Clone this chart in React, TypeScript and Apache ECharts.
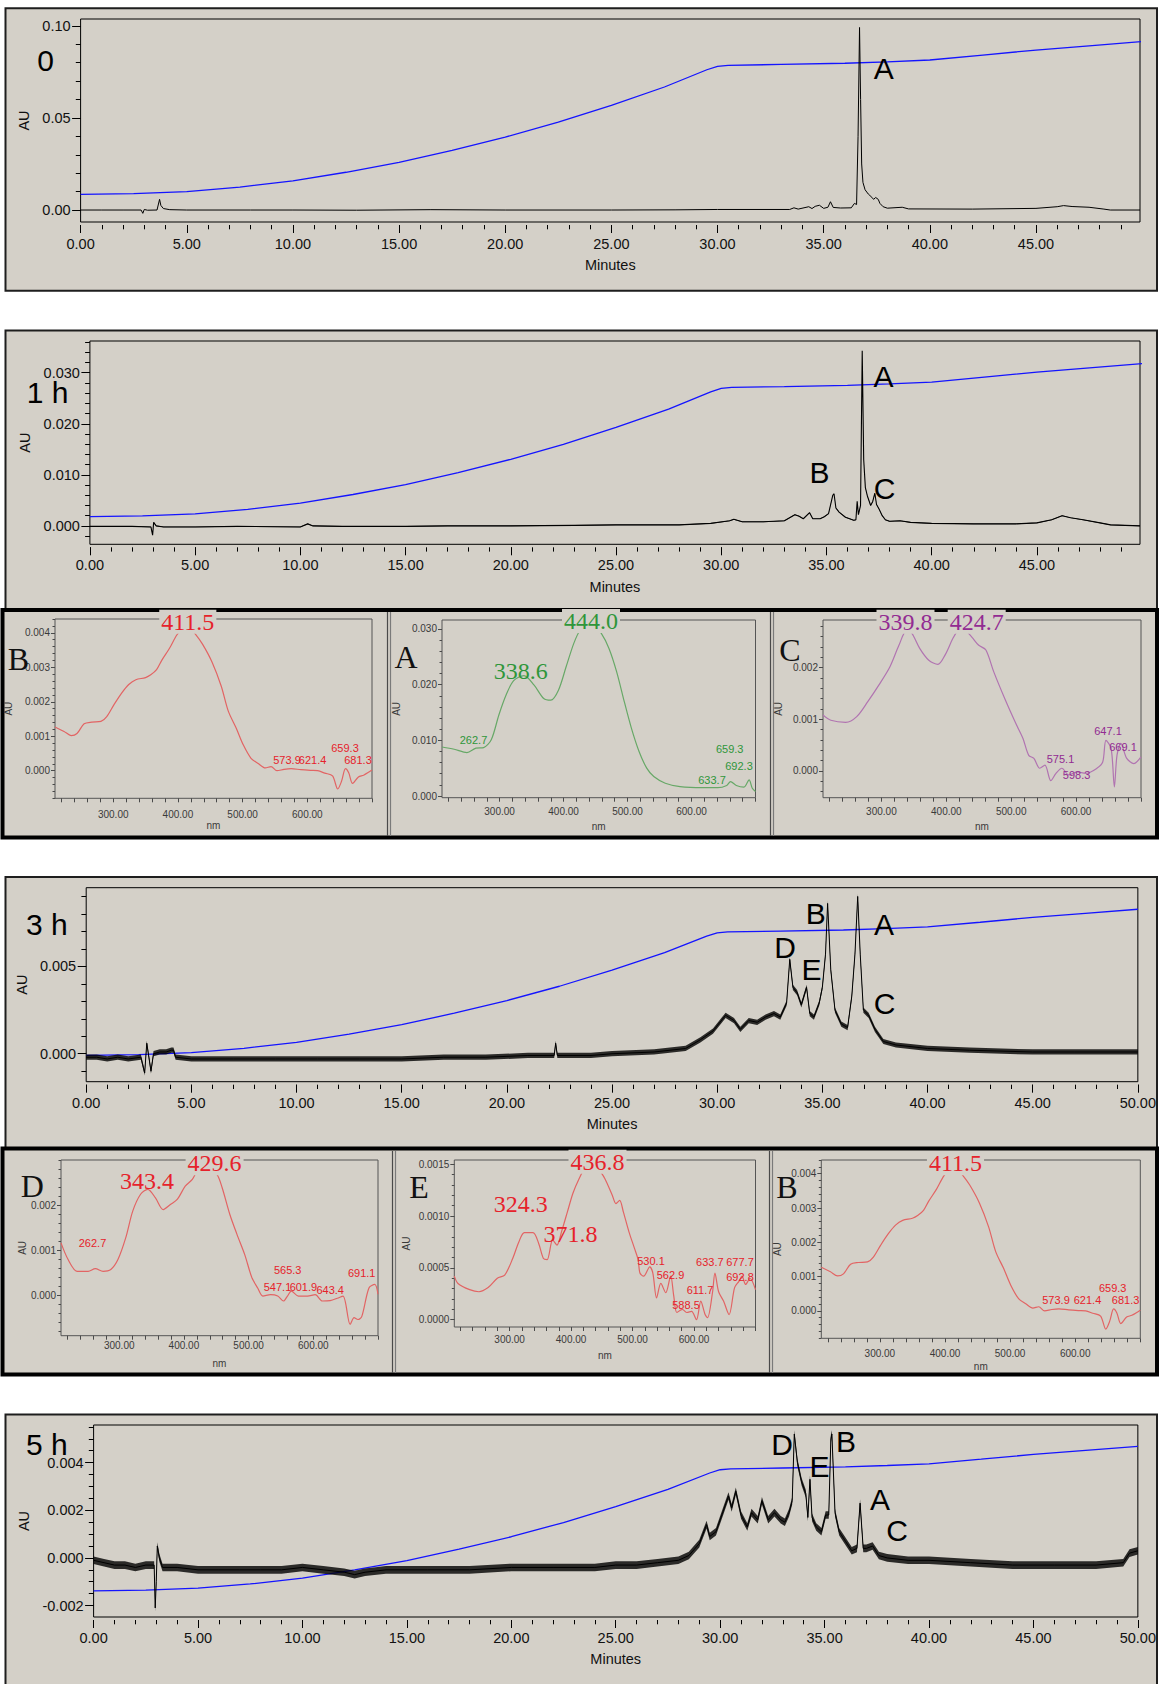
import React, { useEffect, useRef } from 'react';
import * as echarts from 'echarts';

const W = 1159;
const H = 1684;
const SANS = '"Liberation Sans", Arial, Helvetica, sans-serif';
const SERIF = '"Liberation Serif", "Times New Roman", Times, serif';
const PANEL = '#d4d0c8';

const range = (a: number, b: number, s: number) => {
  const out: number[] = [];
  const n = Math.round((b - a) / s);
  for (let i = 0; i <= n; i++) out.push(+(a + i * s).toFixed(6));
  return out;
};

// ---------------- gradient (blue) ----------------
const gradientMinutes = [0, 2.5, 5, 7.5, 10, 12.5, 15, 17.5, 20, 22.5, 25, 27.5, 29.5, 30, 30.5, 33, 36, 38, 40, 42.5, 45, 47.5, 50];
const gradientPercent = [13.6, 14.0, 15.0, 17.2, 20.3, 24.5, 29.4, 35.3, 41.8, 49.2, 57.5, 66.5, 75.0, 76.7, 77.2, 77.6, 78.2, 78.9, 79.8, 82.2, 84.7, 86.8, 88.9];

// ---------------- chromatograms ----------------
const trace0h: [number, number][] = [
  [0, 0], [1, 0], [2, 0], [2.85, 0], [2.93, -0.0018], [3.0, 0.0003], [3.15, -0.0001], [3.6, 0], [3.72, 0.0058], [3.78, 0.0025],
  [3.9, 0.0008], [4.2, 0.0002], [5, 0], [8, 0], [10, 0], [13, -0.0001], [16.5, 0.0002], [20, 0], [25, 0], [28, 0.0001], [30, 0.0003],
  [33.4, 0.0003], [33.6, 0.0012], [33.8, 0.0005], [34.3, 0.0018], [34.45, 0.0008], [34.6, 0.002], [34.8, 0.0026], [35.0, 0.0009],
  [35.2, 0.0015], [35.32, 0.0045], [35.45, 0.0014], [35.8, 0.0011], [36.3, 0.0012], [36.45, 0.0036], [36.55, 0.003], [36.62, 0.04],
  [36.69, 0.0991], [36.74, 0.06], [36.79, 0.025], [36.85, 0.015], [36.95, 0.011], [37.1, 0.0087], [37.27, 0.0069], [37.35, 0.0058],
  [37.45, 0.0068], [37.57, 0.0058], [37.65, 0.0036], [37.8, 0.0018], [38.0, 0.001], [38.7, 0.0015], [39.0, 0.0006], [42, 0.0005],
  [45, 0.0009], [46, 0.0018], [46.3, 0.0024], [46.7, 0.0019], [47.5, 0.0015], [48.2, 0.0005], [48.5, 0], [49.9, 0],
];
const trace1h: [number, number][] = [
  [0, -0.0001], [1, -0.0001], [2, -0.0001], [2.9, -0.0002], [2.98, -0.0018], [3.03, 0.0007], [3.15, 0], [3.5, -0.0002], [5, -0.0002],
  [7, -0.0001], [10, -0.0002], [10.35, 0.0004], [10.6, 0], [12, -0.0001], [15, -0.0001], [17, 0], [20, 0], [23, 0.0001], [25, 0.0002],
  [28, 0.0002], [29.5, 0.0005], [30.4, 0.001], [30.6, 0.0013], [31, 0.0008], [32, 0.0008], [33, 0.001], [33.5, 0.0022], [33.7, 0.0019],
  [33.9, 0.0014], [34.2, 0.0026], [34.35, 0.0014], [34.7, 0.0014], [34.9, 0.0018], [35.1, 0.0024], [35.3, 0.006], [35.36, 0.0063],
  [35.45, 0.0035], [35.6, 0.0027], [35.9, 0.0017], [36.3, 0.0011], [36.4, 0.0012], [36.46, 0.0048], [36.52, 0.0022], [36.62, 0.004],
  [36.7, 0.0343], [36.77, 0.013], [36.85, 0.0075], [36.95, 0.0058], [37.1, 0.004], [37.2, 0.0048], [37.3, 0.0064], [37.38, 0.0042],
  [37.5, 0.0033], [37.65, 0.002], [37.8, 0.0012], [38, 0.0009], [38.5, 0.001], [39, 0.0007], [40, 0.0005], [42, 0.0004], [44, 0.0004],
  [45, 0.0006], [45.7, 0.0012], [46.2, 0.002], [46.6, 0.0016], [47.2, 0.0012], [48, 0.0006], [48.5, 0.0002], [49.9, 0],
];
const trace3h: [number, number][] = [
  [0, -0.0002], [0.5, -0.0002], [1, -0.0003], [1.5, -0.0002], [2, -0.0003], [2.6, -0.0002], [2.78, -0.0011], [2.88, 0.0006],
  [2.98, -0.0002], [3.08, -0.001], [3.2, 0], [3.5, 0.0001], [3.8, 0.0001], [4.05, 0.0002], [4.15, 0.0002], [4.25, -0.0002],
  [5, -0.0003], [7, -0.0003], [9, -0.0003], [11, -0.0003], [13, -0.0003], [15, -0.0003], [17, -0.0002], [19, -0.0002], [21, -0.0001],
  [22.25, -0.0001], [22.32, 0.0006], [22.4, -0.0001], [24, -0.0001], [25, 0], [27, 0.0001], [28.5, 0.0003], [29.2, 0.0008],
  [29.8, 0.0013], [30.4, 0.0022], [30.8, 0.0019], [31.1, 0.0014], [31.5, 0.0019], [31.9, 0.0018], [32.3, 0.0021], [32.7, 0.0023],
  [33.0, 0.0021], [33.3, 0.0029], [33.45, 0.0054], [33.6, 0.0038], [33.8, 0.0035], [34.0, 0.0028], [34.25, 0.0038], [34.4, 0.0023],
  [34.6, 0.0021], [34.85, 0.0029], [35.0, 0.0038], [35.15, 0.0057], [35.25, 0.0086], [35.4, 0.0048], [35.6, 0.0025], [35.9, 0.0017],
  [36.2, 0.0015], [36.4, 0.0033], [36.55, 0.0057], [36.68, 0.009], [36.8, 0.0057], [36.95, 0.0025], [37.2, 0.0022], [37.5, 0.0014],
  [37.9, 0.0007], [38.5, 0.0005], [40, 0.0003], [42, 0.0002], [45, 0.0001], [47, 0.0001], [50, 0.0001],
];
const trace5h: [number, number][] = [
  [0, -0.0001], [0.5, -0.0002], [1, -0.0003], [1.5, -0.0003], [2, -0.0004], [2.5, -0.0003], [2.9, -0.0003], [2.95, -0.0021],
  [3.0, -0.001], [3.05, 0.0005], [3.15, 0], [3.3, -0.0004], [4, -0.0004], [5, -0.0005], [6, -0.0005], [7, -0.0005], [8, -0.0005],
  [9, -0.0005], [10, -0.0004], [11, -0.0005], [12, -0.0006], [12.5, -0.0007], [13, -0.0006], [14, -0.0005], [16, -0.0005],
  [18, -0.0005], [20, -0.0004], [22, -0.0004], [24, -0.0004], [25, -0.0003], [26, -0.0003], [27, -0.0002], [28, -0.0001],
  [28.5, 0.0001], [29.0, 0.0006], [29.35, 0.0014], [29.5, 0.0009], [29.8, 0.0011], [30.2, 0.0021], [30.4, 0.0026], [30.55, 0.0021],
  [30.75, 0.0028], [31.0, 0.0018], [31.3, 0.0013], [31.5, 0.0019], [31.8, 0.0016], [32.0, 0.0024], [32.3, 0.0016], [32.6, 0.0019],
  [32.9, 0.0016], [33.1, 0.0015], [33.3, 0.0019], [33.45, 0.0024], [33.55, 0.0052], [33.7, 0.004], [33.9, 0.0032], [34.1, 0.0027],
  [34.2, 0.0017], [34.3, 0.0033], [34.4, 0.0017], [34.6, 0.0013], [34.85, 0.0011], [35.05, 0.0018], [35.2, 0.0018], [35.3, 0.005],
  [35.35, 0.0052], [35.5, 0.0019], [35.7, 0.0011], [36.0, 0.0007], [36.3, 0.0003], [36.55, 0.0004], [36.7, 0.0023], [36.85, 0.0004],
  [37.0, 0.0004], [37.3, 0.0005], [37.6, 0.0001], [38, 0], [39, -0.0001], [40, -0.0001], [42, -0.0002], [44, -0.0003], [46, -0.0003],
  [48, -0.0003], [49.3, -0.0002], [49.6, 0.0002], [50, 0.0003],
];
// half-width of the detector noise band (AU)
const noise1h = 0.00007;
const noise3h = 0.00015;
const noise5h = 0.00016;

const yTicks0h = [0, 0.05, 0.1];
const yTicks1h = [0, 0.01, 0.02, 0.03];
const yTicks3h = [0, 0.005];
const yTicks5h = [-0.002, 0, 0.002, 0.004];

// ---------------- UV spectra (nm, AU) ----------------
const specB: [number, number][] = [
  [210, 0.00127], [224, 0.00114], [235, 0.00102], [244, 0.00108], [255, 0.00136], [267, 0.00141], [281, 0.00143], [290, 0.00157],
  [301, 0.00191], [313, 0.00225], [324, 0.0025], [335, 0.00264], [350, 0.0027], [358, 0.00278], [367, 0.00293], [375, 0.0032],
  [387, 0.00355], [398, 0.00393], [407, 0.00412], [413, 0.00415], [420, 0.0041], [427, 0.00396], [438, 0.00367], [453, 0.00314],
  [467, 0.00245], [478, 0.00172], [490, 0.00124], [501, 0.00075], [513, 0.00036], [524, 0.00021], [535, 0.00008], [544, 0.00012],
  [553, 0], [564, 0.00004], [575, 0.00006], [590, 0.00003], [605, 0.00001], [616, 0], [627, -0.00007], [639, -0.00015],
  [647, -0.00053], [653, -0.0003], [659, 0.00006], [664, -0.00006], [670, -0.00037], [679, -0.00018], [687, -0.00013],
  [696, -0.00003], [700, 0.00002],
];
const specA: [number, number][] = [
  [210, 0.0088], [229, 0.0084], [249, 0.0078], [263, 0.0086], [275, 0.0087], [287, 0.0101], [299, 0.0146], [310, 0.0181],
  [322, 0.0207], [338, 0.0216], [354, 0.0199], [369, 0.0175], [380, 0.0172], [392, 0.019], [404, 0.0232], [416, 0.0274],
  [426, 0.0298], [436, 0.0307], [445, 0.031], [459, 0.0292], [471, 0.0265], [483, 0.0223], [495, 0.0169], [506, 0.0122],
  [518, 0.008], [530, 0.005], [541, 0.0035], [559, 0.0023], [582, 0.0017], [617, 0.0015], [641, 0.0015], [655, 0.0019],
  [661, 0.0026], [670, 0.0019], [682, 0.0016], [690, 0.0029], [695, 0.0014], [700, 0.0008],
];
const specC: [number, number][] = [
  [210, 0.00108], [222, 0.00098], [245, 0.00094], [262, 0.00105], [279, 0.00134], [296, 0.00166], [313, 0.00201], [327, 0.00243],
  [339, 0.00272], [347, 0.00266], [359, 0.00237], [373, 0.00214], [387, 0.00206], [398, 0.00224], [410, 0.00256], [418, 0.00272],
  [425, 0.00279], [433, 0.00268], [440, 0.00258], [450, 0.00243], [461, 0.00234], [473, 0.00192], [490, 0.0014], [507, 0.00092],
  [518, 0.00063], [527, 0.0003], [535, 0.00024], [544, 0.00005], [552, 0.00011], [561, -0.00019], [569, -0.00005], [578, 0.00005],
  [589, -0.00008], [601, -0.00002], [615, -0.00005], [632, 0.00005], [641, 0.00017], [646, 0.00059], [654, 0.00043],
  [659, -0.00031], [663, 0.0003], [669, 0.00053], [678, 0.00024], [689, 0.00014], [700, 0.00027],
];
const specD: [number, number][] = [
  [210, 0.00116], [221, 0.00079], [235, 0.00053], [252, 0.00053], [263, 0.00059], [275, 0.00053], [287, 0.00057], [298, 0.00079],
  [310, 0.00127], [321, 0.00187], [333, 0.00224], [344, 0.00235], [356, 0.00216], [368, 0.0019], [379, 0.00201], [390, 0.00213],
  [402, 0.00242], [413, 0.00257], [422, 0.00279], [430, 0.00283], [442, 0.00272], [451, 0.00268], [459, 0.00239], [471, 0.00179],
  [482, 0.00135], [494, 0.0009], [505, 0.00039], [514, 0.00016], [522, -0.00002], [534, 0.00001], [545, -0.00002], [554, -0.00013],
  [560, -0.00002], [566, 0.00009], [577, -0.00002], [591, -0.00002], [603, 0.00001], [614, -0.00013], [626, -0.00012],
  [637, -0.00007], [646, -0.00002], [657, -0.00065], [663, -0.0005], [669, -0.00054], [675, -0.00047], [686, 0.00016],
  [695, 0.00024], [700, 0.00002],
];
const specE: [number, number][] = [
  [210, 0.00042], [216, 0.00035], [235, 0.00029], [250, 0.00027], [265, 0.00031], [280, 0.0004], [292, 0.00043], [305, 0.00059],
  [315, 0.00075], [324, 0.00084], [338, 0.00084], [347, 0.00074], [355, 0.00059], [361, 0.00058], [370, 0.00077], [377, 0.00072],
  [385, 0.00086], [394, 0.00104], [403, 0.00122], [413, 0.00136], [425, 0.00149], [436, 0.00154], [443, 0.00147], [455, 0.00136],
  [467, 0.0012], [473, 0.00112], [479, 0.00115], [485, 0.00104], [494, 0.00085], [503, 0.00069], [509, 0.00058], [512, 0.00045],
  [518, 0.00042], [528, 0.00051], [533, 0.00045], [539, 0.00021], [546, 0.00035], [554, 0.00026], [562, 0.00042], [567, 0.00023],
  [572, 0.00007], [581, 0.0001], [588, 0.00007], [596, 0.00008], [604, 0], [611, 0.00018], [618, 0.00005], [622, 0.00002],
  [630, 0.00026], [634, 0.00045], [640, 0.00027], [648, 0.00018], [657, 0.00005], [666, 0.00031], [673, 0.00037], [678, 0.00042],
  [684, 0.00034], [691, 0.0004], [700, 0.00029],
];
const nmTicks = range(220, 700, 20);
const nmLabels = [300, 400, 500, 600];

const RED_LINE = '#e26464';
const RED_TEXT = '#e6222b';
const GREEN_LINE = '#67a867';
const GREEN_TEXT = '#2f963a';
const PURPLE_LINE = '#b174b1';
const PURPLE_TEXT = '#922b92';

function buildOption() {
  const grids: any[] = [];
  const xAxes: any[] = [];
  const yAxes: any[] = [];
  const series: any[] = [];

  const chromPanels = [
    { data: trace0h, grid: { left: 80.6, top: 19, width: 1059.4, height: 203 }, xMax: 49.9, xMajor: range(0, 45, 5), xMinor: range(0, 49, 1),
      yMin: -0.0065, yMax: 0.1037, yMajor: yTicks0h, yMinor: range(0, 0.1, 0.01), dec: 2, xm: 11, nameGap: 32.5, auGap: 46, noise: 0, lw: 1 },
    { data: trace1h, grid: { left: 89.9, top: 341, width: 1050.1, height: 203.3 }, xMax: 49.9, xMajor: range(0, 45, 5), xMinor: range(0, 49, 1),
      yMin: -0.0036, yMax: 0.0362, yMajor: yTicks1h, yMinor: range(-0.002, 0.036, 0.002), dec: 3, xm: 10.5, nameGap: 32, auGap: 55, noise: noise1h, lw: 1.1 },
    { data: trace3h, grid: { left: 86.2, top: 887.7, width: 1053.8, height: 194 }, xMax: 50, xMajor: range(0, 50, 5), xMinor: range(0, 50, 1),
      yMin: -0.0016, yMax: 0.0095, yMajor: yTicks3h, yMinor: range(-0.001, 0.009, 0.001), dec: 3, xm: 10.3, nameGap: 31.4, auGap: 53, noise: noise3h, lw: 1 },
    { data: trace5h, grid: { left: 93.6, top: 1425, width: 1046.4, height: 192 }, xMax: 50, xMajor: range(0, 50, 5), xMinor: range(0, 50, 1),
      yMin: -0.00248, yMax: 0.00558, yMajor: yTicks5h, yMinor: range(-0.002, 0.0055, 0.0005), dec: 3, xm: 10, nameGap: 31.7, auGap: 59, noise: noise5h, lw: 1 },
  ];

  const tickLine = { color: '#000', width: 1 };
  const labelStyle = { fontSize: 14.5, fontFamily: SANS, color: '#111' };

  chromPanels.forEach((c, pi) => {
    const gi = grids.length;
    grids.push({ ...c.grid, show: true, borderColor: '#000', borderWidth: 1, backgroundColor: 'transparent', containLabel: false });
    const xi = xAxes.length;
    xAxes.push({
      gridIndex: gi, type: 'value', min: 0, max: c.xMax, position: 'bottom', offset: 3,
      axisLine: { show: false, onZero: false },
      axisTick: { show: true, length: 8, customValues: c.xMajor, lineStyle: tickLine },
      axisLabel: { show: true, customValues: c.xMajor, formatter: (v: number) => v.toFixed(2), margin: c.xm, ...labelStyle },
      splitLine: { show: false },
      name: 'Minutes', nameLocation: 'middle', nameGap: c.nameGap, nameTextStyle: labelStyle,
    });
    xAxes.push({
      gridIndex: gi, type: 'value', min: 0, max: c.xMax, position: 'bottom', offset: 3,
      axisLine: { show: false, onZero: false },
      axisTick: { show: true, length: 4.3, customValues: c.xMinor, lineStyle: tickLine },
      axisLabel: { show: false }, splitLine: { show: false },
    });
    const yi = yAxes.length;
    yAxes.push({
      gridIndex: gi, type: 'value', min: c.yMin, max: c.yMax, position: 'left',
      axisLine: { show: false, onZero: false },
      axisTick: { show: true, length: 8.5, customValues: c.yMajor, lineStyle: tickLine },
      axisLabel: { show: true, customValues: c.yMajor, formatter: (v: number) => v.toFixed(c.dec), margin: 10, ...labelStyle },
      splitLine: { show: false },
      name: 'AU', nameLocation: 'middle', nameGap: c.auGap, nameTextStyle: labelStyle,
    });
    yAxes.push({
      gridIndex: gi, type: 'value', min: c.yMin, max: c.yMax, position: 'left',
      axisLine: { show: false, onZero: false },
      axisTick: { show: true, length: 4.8, customValues: c.yMinor, lineStyle: tickLine },
      axisLabel: { show: false }, splitLine: { show: false },
    });
    yAxes.push({ gridIndex: gi, type: 'value', min: 0, max: 100, show: false, position: 'right' });

    series.push({
      type: 'line', name: 'gradient' + pi, xAxisIndex: xi, yAxisIndex: yi + 2, symbol: 'none', silent: true,
      data: gradientMinutes.map((t, i) => [t, gradientPercent[i]]),
      lineStyle: { color: '#1414ff', width: 1.3 }, z: 3,
    });
    if (c.noise > 0) {
      const trace = c.data;
      const amp = c.noise;
      series.push({
        type: 'custom', name: 'noise' + pi, xAxisIndex: xi, yAxisIndex: yi, silent: true, z: 4, clip: true,
        data: [trace[0]],
        renderItem: (_params: any, api: any) => {
          const upper = trace.map(([t, v]) => api.coord([t, v + amp]));
          const lower = trace.slice().reverse().map(([t, v]) => api.coord([t, v - amp]));
          return {
            type: 'polygon',
            shape: { points: upper.concat(lower) },
            style: { fill: 'rgba(0,0,0,0.8)', stroke: 'none' },
          };
        },
      });
    }
    series.push({
      type: 'line', name: 'trace' + pi, xAxisIndex: xi, yAxisIndex: yi, symbol: 'none', silent: true,
      data: c.data, lineStyle: { color: '#000', width: c.lw }, z: 5,
    });
  });

  const specPanels = [
    { data: specB, color: RED_LINE, grid: { left: 55, top: 619, width: 317, height: 179.3 }, yMin: -0.0008, yMax: 0.0044,
      yMajor: [0, 0.001, 0.002, 0.003, 0.004], yMinor: range(-0.0008, 0.0044, 0.0002), dec: 3, xm: 11, nmGap: 20.7, auGap: 42 },
    { data: specA, color: GREEN_LINE, grid: { left: 442, top: 620, width: 313.5, height: 177.7 }, yMin: -0.0003, yMax: 0.0316,
      yMajor: [0, 0.01, 0.02, 0.03], yMinor: range(0, 0.03, 0.002), dec: 3, xm: 9, nmGap: 24, auGap: 40.4 },
    { data: specC, color: PURPLE_LINE, grid: { left: 823, top: 620, width: 318, height: 177.7 }, yMin: -0.00052, yMax: 0.00292,
      yMajor: [0, 0.001, 0.002], yMinor: range(-0.0004, 0.0028, 0.0002), dec: 3, xm: 9, nmGap: 24, auGap: 39.2 },
    { data: specD, color: RED_LINE, grid: { left: 61, top: 1160, width: 317, height: 175.7 }, yMin: -0.0009, yMax: 0.003,
      yMajor: [0, 0.001, 0.002], yMinor: range(-0.0008, 0.003, 0.0002), dec: 3, xm: 5, nmGap: 22.3, auGap: 32 },
    { data: specE, color: RED_LINE, grid: { left: 454.3, top: 1160, width: 301.2, height: 167 }, yMin: -0.00007, yMax: 0.00154,
      yMajor: [0, 0.0005, 0.001, 0.0015], yMinor: range(0, 0.0015, 0.0001), dec: 4, xm: 7.3, nmGap: 23, auGap: 43 },
    { data: specB, color: RED_LINE, grid: { left: 821.3, top: 1160, width: 319, height: 178.3 }, yMin: -0.0008, yMax: 0.0044,
      yMajor: [0, 0.001, 0.002, 0.003, 0.004], yMinor: range(-0.0008, 0.0044, 0.0002), dec: 3, xm: 10, nmGap: 23.4, auGap: 39.3 },
  ];
  const specText = { fontSize: 10, fontFamily: SANS, color: '#3a3a3a' };
  const specTick = { color: '#4a4a4a', width: 1 };

  specPanels.forEach((s, si) => {
    const gi = grids.length;
    grids.push({ ...s.grid, show: true, borderColor: '#555', borderWidth: 1, backgroundColor: 'transparent', containLabel: false });
    const xi = xAxes.length;
    xAxes.push({
      gridIndex: gi, type: 'value', min: 210, max: 700, position: 'bottom',
      axisLine: { show: false, onZero: false },
      axisTick: { show: true, length: 4, customValues: nmTicks, lineStyle: specTick },
      axisLabel: { show: true, customValues: nmLabels, formatter: (v: number) => v.toFixed(2), margin: s.xm, ...specText },
      splitLine: { show: false },
      name: 'nm', nameLocation: 'middle', nameGap: s.nmGap, nameTextStyle: specText,
    });
    const yi = yAxes.length;
    yAxes.push({
      gridIndex: gi, type: 'value', min: s.yMin, max: s.yMax, position: 'left',
      axisLine: { show: false, onZero: false },
      axisTick: { show: true, length: 4, customValues: s.yMajor, lineStyle: specTick },
      axisLabel: { show: true, customValues: s.yMajor, formatter: (v: number) => v.toFixed(s.dec), margin: 5, ...specText },
      splitLine: { show: false },
      name: 'AU', nameLocation: 'middle', nameGap: s.auGap, nameTextStyle: specText,
    });
    yAxes.push({
      gridIndex: gi, type: 'value', min: s.yMin, max: s.yMax, position: 'left',
      axisLine: { show: false, onZero: false },
      axisTick: { show: true, length: 2.5, customValues: s.yMinor, lineStyle: specTick },
      axisLabel: { show: false }, splitLine: { show: false },
    });
    series.push({
      type: 'line', name: 'spectrum' + si, xAxisIndex: xi, yAxisIndex: yi, symbol: 'none', silent: true, smooth: 0.3,
      data: s.data, lineStyle: { color: s.color, width: 1.2 }, z: 5,
    });
  });

  // ---------- panels / frames ----------
  const g: any[] = [];
  const box = (x: number, y: number, w: number, h: number, stroke: string, lw: number, z: number) =>
    g.push({ type: 'rect', shape: { x, y, width: w, height: h }, style: { fill: PANEL, stroke, lineWidth: lw }, z, silent: true });
  box(5.5, 8.3, 1151.5, 282.5, '#1e1e1e', 2, -20);
  box(5.5, 330.5, 1151.5, 280, '#1e1e1e', 2, -20);
  box(2.5, 610, 1154.5, 227.5, '#000', 4, -19);
  box(5.5, 877, 1151.5, 272, '#1e1e1e', 2, -20);
  box(2.5, 1148.5, 1154.5, 226, '#000', 4, -19);
  box(5.5, 1414.5, 1151.5, 285, '#1e1e1e', 2, -20);
  const vline = (x: number, y1: number, y2: number, color: string) =>
    g.push({ type: 'line', shape: { x1: x, y1, x2: x, y2 }, style: { stroke: color, lineWidth: 1.2 }, z: -18, silent: true });
  vline(387.5, 612, 836, '#4a4a4a'); vline(390.5, 612, 836, '#7a7a7a');
  vline(770.5, 612, 836, '#4a4a4a'); vline(773.5, 612, 836, '#7a7a7a');
  vline(392.5, 1151, 1373, '#4a4a4a'); vline(395.5, 1151, 1373, '#7a7a7a');
  vline(769.5, 1151, 1373, '#4a4a4a'); vline(772.5, 1151, 1373, '#7a7a7a');

  const txt = (text: string, x: number, y: number, fontSize: number, family: string, fill: string, bg?: boolean) =>
    g.push({
      type: 'text', x, y, z: 100, silent: true,
      style: {
        text, fill, fontSize, fontFamily: family, align: 'center', verticalAlign: 'middle',
        ...(bg ? { backgroundColor: PANEL, padding: [0, 2] } : {}),
      },
    });

  // chromatogram labels
  const big = (t: string, x: number, y: number) => txt(t, x, y, 30, SANS, '#000');
  big('0', 45.5, 60); big('A', 883.7, 68);
  big('1 h', 47.5, 392); big('A', 883.5, 376); big('B', 819.6, 472.5); big('C', 884.5, 488);
  big('3 h', 46.8, 924); big('D', 785, 947.5); big('E', 811.5, 969); big('B', 815.8, 913.7); big('A', 884, 924.7); big('C', 884.5, 1003);
  big('5 h', 46.8, 1444); big('D', 782, 1444); big('E', 819.5, 1466.7); big('B', 846, 1441); big('A', 880, 1499); big('C', 897, 1530);

  // spectrum letters
  const letter = (t: string, x: number, y: number) => txt(t, x, y, 32, SERIF, '#111');
  letter('B', 18.5, 659); letter('A', 406, 657); letter('C', 790, 650);
  letter('D', 32.4, 1186); letter('E', 419, 1187); letter('B', 787, 1187);

  // big peak wavelength labels
  const pk = (t: string, x: number, y: number, c: string, bg?: boolean) => txt(t, x, y, 24, SERIF, c, bg);
  pk('411.5', 187.8, 621.7, RED_TEXT, true);
  pk('444.0', 591, 621, GREEN_TEXT, true);
  pk('338.6', 520.8, 671, GREEN_TEXT);
  pk('339.8', 905.5, 621.7, PURPLE_TEXT, true);
  pk('424.7', 976.7, 621.7, PURPLE_TEXT, true);
  pk('429.6', 214.6, 1163.3, RED_TEXT, true);
  pk('343.4', 147, 1180.8, RED_TEXT);
  pk('436.8', 597.5, 1161.7, RED_TEXT, true);
  pk('324.3', 520.8, 1204, RED_TEXT);
  pk('371.8', 570.4, 1234, RED_TEXT);
  pk('411.5', 955.5, 1163.3, RED_TEXT, true);

  // small peak labels
  const sm = (t: string, x: number, y: number, c: string) => txt(t, x, y, 11, SANS, c);
  sm('573.9', 287, 760, RED_TEXT); sm('621.4', 312.6, 760, RED_TEXT); sm('659.3', 345, 748.3, RED_TEXT); sm('681.3', 358, 760, RED_TEXT);
  sm('262.7', 473.5, 740, GREEN_TEXT); sm('659.3', 729.7, 749, GREEN_TEXT); sm('692.3', 739, 766, GREEN_TEXT); sm('633.7', 712, 780, GREEN_TEXT);
  sm('575.1', 1060.5, 759, PURPLE_TEXT); sm('598.3', 1076.6, 775, PURPLE_TEXT); sm('647.1', 1108, 731, PURPLE_TEXT); sm('669.1', 1123, 746.7, PURPLE_TEXT);
  sm('262.7', 92.5, 1243.3, RED_TEXT); sm('565.3', 287.7, 1270, RED_TEXT); sm('547.1', 277.5, 1286.7, RED_TEXT);
  sm('601.9', 303.4, 1286.7, RED_TEXT); sm('643.4', 330.2, 1290, RED_TEXT); sm('691.1', 361.7, 1272.7, RED_TEXT);
  sm('530.1', 651, 1261, RED_TEXT); sm('562.9', 670.5, 1275, RED_TEXT); sm('633.7', 709.8, 1261.7, RED_TEXT); sm('677.7', 740, 1261.7, RED_TEXT);
  sm('692.8', 740, 1276.7, RED_TEXT); sm('611.7', 700, 1290, RED_TEXT); sm('588.5', 686, 1305, RED_TEXT);
  sm('573.9', 1056, 1300, RED_TEXT); sm('621.4', 1087.5, 1300, RED_TEXT); sm('659.3', 1112.7, 1288.3, RED_TEXT); sm('681.3', 1125.6, 1300, RED_TEXT);

  return {
    animation: false,
    backgroundColor: '#ffffff',
    graphic: { elements: g },
    grid: grids,
    xAxis: xAxes,
    yAxis: yAxes,
    series,
  };
}

export default function App() {
  const ref = useRef<HTMLDivElement>(null);
  useEffect(() => {
    if (!ref.current) return;
    const chart = echarts.init(ref.current, undefined, { renderer: 'svg', width: W, height: H });
    chart.setOption(buildOption() as any);
    return () => chart.dispose();
  }, []);
  return <div ref={ref} style={{ position: 'absolute', left: 0, top: 0, width: W, height: H }} />;
}
